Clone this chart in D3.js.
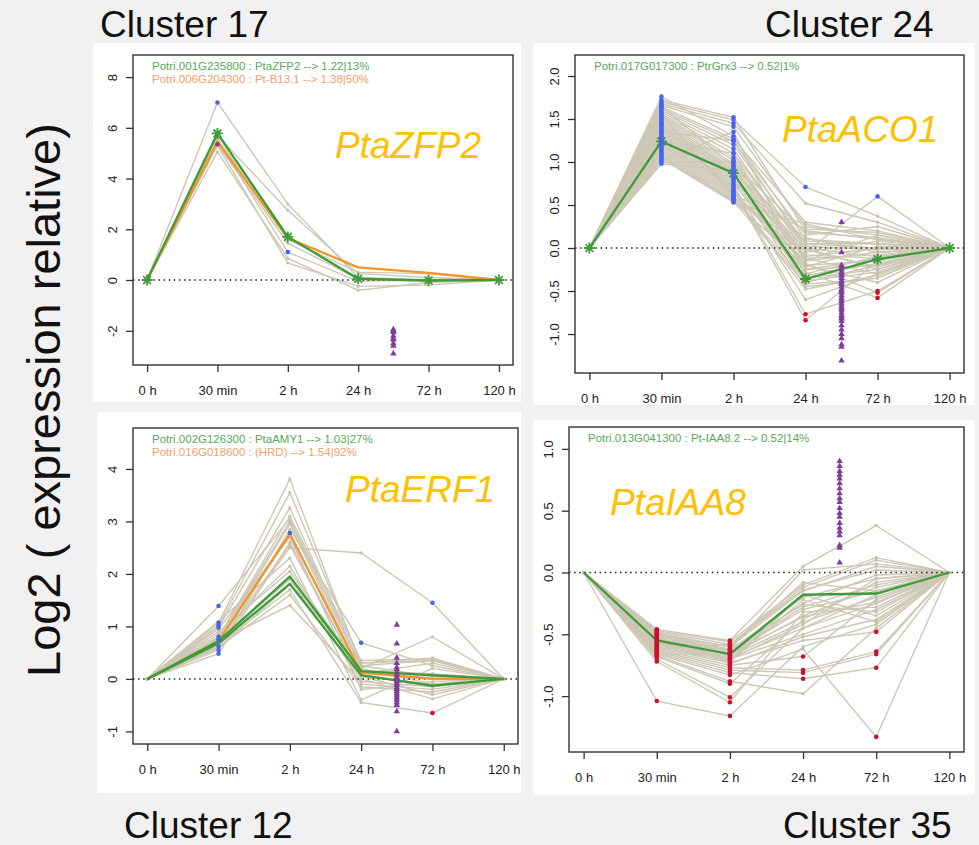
<!DOCTYPE html>
<html><head><meta charset="utf-8">
<script src="https://cdn.jsdelivr.net/npm/d3@7"></script>
<style>body{margin:0;background:#f1f1f1}svg{display:block}</style>
</head><body><svg id="c" width="979" height="845"></svg>
<script>
// ---------- DATA ----------
const timeLabels = ["0 h", "30 min", "2 h", "24 h", "72 h", "120 h"];
const clusterTitles = ["Cluster 17", "Cluster 24", "Cluster 12", "Cluster 35"];
const geneLabels = ["PtaZFP2", "PtaACO1", "PtaERF1", "PtaIAA8"];
const yAxisTitle = "Log2 ( expression relative)";

// Cluster 17
const c17Ticks = [-2, 0, 2, 4, 6, 8];
const c17Legend = ["Potri.001G235800 : PtaZFP2 --> 1.22|13%", "Potri.006G204300 : Pt-B13.1 --> 1.38|50%"];
const c17Lines = [
  [0, 7.0, 3.0, 0.1, 0.0, 0],
  [0, 5.7, 2.75, 0.25, 0.1, 0],
  [0, 5.05, 0.85, -0.4, -0.1, 0],
  [0, 5.3, 0.67, -0.25, -0.2, 0],
  [0, 5.5, 1.1, -0.05, 0.0, 0],
  [0, 5.6, 1.6, 0.3, 0.25, 0],
  [0, 5.35, 1.45, 0.05, -0.05, 0]
];
const c17Green = [[0, 5.78, 1.7, 0.05, -0.02, 0]];
const c17Orange = [0, 5.45, 1.65, 0.5, 0.28, 0];
const c17Blue = [[0, 1], [4, 2]];
const c17Red = [];
const c17PurpleDots = [[6, 1]];
const c17Triangles = [-1.95, -2.0, -2.05, -2.2, -2.3, -2.35, -2.5, -2.6, -2.9];

// Cluster 24
const c24Ticks = [-1.0, -0.5, 0.0, 0.5, 1.0, 1.5, 2.0];
const c24Legend = ["Potri.017G017300 : PtrGrx3 --> 0.52|1%"];
const c24Lines = [
  [0, 1.76, 1.30, 0.10, 0.05, 0],
  [0, 1.72, 1.52, 0.20, 0.10, 0],
  [0, 1.70, 1.49, 0.71, 0.37, 0],
  [0, 1.68, 1.45, 0.52, 0.30, 0],
  [0, 1.66, 1.41, 0.25, 0.15, 0],
  [0, 1.64, 1.27, 0.30, 0.20, 0],
  [0, 1.62, 1.24, 0.15, 0.25, 0],
  [0, 1.60, 1.20, 0.05, 0.05, 0],
  [0, 1.58, 1.15, -0.05, 0.60, 0],
  [0, 1.56, 1.10, 0.00, -0.10, 0],
  [0, 1.54, 1.05, -0.10, 0.00, 0],
  [0, 1.52, 1.02, -0.15, -0.05, 0],
  [0, 1.50, 0.98, 0.18, 0.12, 0],
  [0, 1.48, 0.95, -0.20, -0.15, 0],
  [0, 1.46, 0.92, -0.25, -0.20, 0],
  [0, 1.44, 0.90, 0.08, 0.05, 0],
  [0, 1.42, 0.88, -0.30, -0.10, 0],
  [0, 1.40, 0.86, -0.35, -0.25, 0],
  [0, 1.38, 0.84, -0.12, -0.30, 0],
  [0, 1.36, 0.82, -0.40, -0.20, 0],
  [0, 1.34, 0.80, -0.05, 0.08, 0],
  [0, 1.32, 0.78, -0.45, -0.35, 0],
  [0, 1.30, 0.76, 0.12, -0.05, 0],
  [0, 1.28, 0.74, -0.20, -0.40, 0],
  [0, 1.26, 0.72, -0.60, -0.30, 0],
  [0, 1.24, 0.70, -0.77, -0.50, 0],
  [0, 1.22, 0.68, -0.84, -0.15, 0],
  [0, 1.20, 0.66, -0.28, -0.58, 0],
  [0, 1.18, 0.64, -0.18, -0.52, 0],
  [0, 1.16, 0.62, 0.22, 0.18, 0],
  [0, 1.14, 0.60, -0.08, -0.12, 0],
  [0, 1.12, 0.58, -0.38, -0.28, 0],
  [0, 1.10, 0.56, 0.02, -0.02, 0],
  [0, 1.08, 0.55, -0.22, 0.02, 0],
  [0, 1.06, 0.54, -0.42, -0.35, 0],
  [0, 1.04, 0.53, 0.28, 0.10, 0],
  [0, 1.02, 1.35, -0.32, -0.18, 0],
  [0, 1.00, 1.00, -0.12, -0.08, 0],
  [0, 0.98, 0.90, -0.02, -0.22, 0],
  [0, 1.55, 0.60, -0.48, -0.32, 0],
  [0, 1.45, 0.65, -0.15, 0.15, 0],
  [0, 1.35, 1.25, 0.00, -0.25, 0],
  [0, 1.25, 1.10, -0.25, -0.12, 0],
  [0, 1.65, 0.95, 0.05, 0.00, 0]
];
const c24Green = [[0, 1.24, 0.87, -0.36, -0.13, 0]];
const c24Orange = null;
const c24BlueTimes = [1, 2];
const c24Blue = [[2, 3], [8, 4]];
const c24Red = [[25, 3], [26, 3], [25, 4], [27, 4], [28, 4]];
const c24Triangles = [0.3, -0.05, -0.2, -0.22, -0.25, -0.28, -0.3, -0.32, -0.35, -0.38, -0.4, -0.42, -0.45,
  -0.48, -0.5, -0.52, -0.55, -0.58, -0.6, -0.62, -0.65, -0.68, -0.7, -0.72, -0.75, -0.78, -0.8, -0.82,
  -0.85, -0.9, -0.95, -1.0, -1.05, -1.12, -1.15, -1.31];

// Cluster 12
const c12Ticks = [-1, 0, 1, 2, 3, 4];
const c12Legend = ["Potri.002G126300 : PtaAMY1 --> 1.03|27%", "Potri.016G018600 : (HRD) --> 1.54|92%"];
const c12Lines = [
  [0, 1.39, 3.05, 0.25, 0.35, 0],
  [0, 1.07, 3.81, 0.25, 0.05, 0],
  [0, 1.02, 3.55, 0.30, 0.40, 0],
  [0, 0.98, 3.26, 0.20, 0.80, 0],
  [0, 0.80, 3.10, 0.35, 0.38, 0],
  [0, 0.75, 2.95, 0.10, 0.30, 0],
  [0, 0.62, 2.50, 2.40, 1.45, 0],
  [0, 0.55, 2.85, 0.69, 0.25, 0],
  [0, 0.48, 2.60, 0.05, -0.10, 0],
  [0, 0.85, 2.15, -0.10, -0.20, 0],
  [0, 0.70, 1.90, 0.00, -0.38, 0],
  [0, 0.65, 1.70, -0.45, -0.65, 0],
  [0, 0.60, 1.60, -0.15, -0.25, 0],
  [0, 0.90, 2.05, 0.15, 0.10, 0],
  [0, 0.72, 1.40, -0.05, -0.15, 0],
  [0, 0.95, 2.70, -0.20, -0.05, 0],
  [0, 0.58, 1.80, 0.30, 0.35, 0],
  [0, 1.10, 2.30, -0.40, 0.20, 0],
  [0, 0.68, 2.55, 0.05, -0.30, 0],
  [0, 0.80, 3.00, 0.20, -0.10, 0],
  [0, 0.78, 2.78, 0.12, 0.02, 0]
];
const c12Green = [[0, 0.72, 1.95, 0.15, 0.07, 0], [0, 0.68, 1.81, 0.07, -0.13, 0]];
const c12Orange = [0, 0.72, 2.76, 0.12, 0.0, 0];
const c12Blue = [[0, 1], [1, 1], [2, 1], [3, 1], [4, 1], [5, 1], [6, 1], [7, 1], [8, 1], [6, 4], [7, 3], [20, 2]];
const c12Red = [[11, 4]];
const c12Triangles = [1.03, 0.67, 0.4, 0.3, 0.22, 0.18, 0.12, 0.08, 0.03, 0.0, -0.04, -0.08, -0.12, -0.16,
  -0.2, -0.24, -0.28, -0.32, -0.36, -0.4, -0.45, -0.5, -0.62, -1.0];

// Cluster 35
const c35Ticks = [-1.0, -0.5, 0.0, 0.5, 1.0];
const c35Legend = ["Potri.013G041300 : Pt-IAA8.2 --> 0.52|14%"];
const c35Lines = [
  [0, -0.46, -0.55, 0.05, 0.38, 0],
  [0, -0.47, -0.56, -0.10, 0.12, 0],
  [0, -0.48, -0.58, -0.12, 0.10, 0],
  [0, -0.49, -0.60, -0.15, 0.05, 0],
  [0, -0.50, -0.62, 0.02, 0.07, 0],
  [0, -0.51, -0.63, -0.20, -0.05, 0],
  [0, -0.52, -0.64, -0.25, -0.02, 0],
  [0, -0.53, -0.65, -0.28, -0.10, 0],
  [0, -0.54, -0.66, -0.30, -0.15, 0],
  [0, -0.55, -0.67, -0.35, -0.12, 0],
  [0, -0.56, -0.68, -0.40, -0.20, 0],
  [0, -0.57, -0.69, -0.45, -0.25, 0],
  [0, -0.58, -0.70, -0.50, -0.30, 0],
  [0, -0.59, -0.71, -0.18, -0.35, 0],
  [0, -0.60, -0.72, -0.22, -0.40, 0],
  [0, -0.61, -0.73, -0.55, -0.48, 0],
  [0, -0.62, -0.75, -0.68, -0.22, 0],
  [0, -0.63, -0.77, -0.79, -0.64, 0],
  [0, -0.64, -0.79, -0.81, -0.66, 0],
  [0, -0.65, -0.81, -0.86, -0.77, 0],
  [0, -0.66, -0.83, -0.62, -1.33, 0],
  [0, -0.67, -0.88, -0.98, -0.45, 0],
  [0, -0.68, -0.90, -0.38, -0.08, 0],
  [0, -0.70, -1.01, -0.45, -0.18, 0],
  [0, -0.72, -1.05, -0.32, -0.28, 0],
  [0, -1.04, -1.16, -0.60, -0.42, 0],
  [0, -0.50, -0.60, -0.08, -0.15, 0],
  [0, -0.53, -0.70, -0.42, -0.05, 0],
  [0, -0.58, -0.62, -0.26, -0.32, 0],
  [0, -0.48, -0.74, -0.52, -0.38, 0],
  [0, -0.62, -0.58, -0.14, 0.02, 0],
  [0, -0.66, -0.66, -0.36, -0.24, 0]
];
const c35Green = [[0, -0.55, -0.66, -0.18, -0.17, 0]];
const c35Orange = null;
const c35RedTimes = [1, 2];
const c35Red = [[16, 3], [17, 3], [18, 3], [19, 3], [15, 4], [17, 4], [18, 4], [19, 4], [20, 4]];
const c35Blue = [];
const c35Triangles = [0.9, 0.86, 0.82, 0.79, 0.76, 0.72, 0.68, 0.64, 0.6, 0.57, 0.52, 0.48, 0.45, 0.4,
  0.36, 0.33, 0.3, 0.22, 0.2, 0.08];

// ---------- LAYOUT ----------
const panels = [
  { lines: c17Lines, green: c17Green, orange: c17Orange, blue: c17Blue, blueTimes: [], red: c17Red, redTimes: [],
    purpleDots: c17PurpleDots, tri: c17Triangles, ticks: c17Ticks, fmt: v => String(v), legend: c17Legend, stars: true,
    frame: [93, 43, 428, 359], box: [133, 55, 513, 365], yDom: [-3.35, 8.87], gene: [335, 158] },
  { lines: c24Lines, green: c24Green, orange: c24Orange, blue: c24Blue, blueTimes: c24BlueTimes, red: c24Red, redTimes: [],
    purpleDots: [], tri: c24Triangles, ticks: c24Ticks, fmt: v => v.toFixed(1), legend: c24Legend, stars: true,
    frame: [533, 43, 442, 362], box: [575, 55, 964, 373], yDom: [-1.453, 2.244], gene: [782, 142] },
  { lines: c12Lines, green: c12Green, orange: c12Orange, blue: c12Blue, blueTimes: [], red: c12Red, redTimes: [],
    purpleDots: [], tri: c12Triangles, ticks: c12Ticks, fmt: v => String(v), legend: c12Legend, stars: false,
    frame: [97, 412, 424, 381], box: [133, 428, 518, 744], yDom: [-1.24, 4.78], gene: [345, 502] },
  { lines: c35Lines, green: c35Green, orange: c35Orange, blue: c35Blue, blueTimes: [], red: c35Red, redTimes: c35RedTimes,
    purpleDots: [], tri: c35Triangles, ticks: c35Ticks, fmt: v => v.toFixed(1), legend: c35Legend, stars: false,
    frame: [533, 420, 442, 375], box: [569, 427, 964, 752], yDom: [-1.452, 1.177], gene: [610, 515] }
];

const FONT = "'Liberation Sans', Arial, Helvetica, sans-serif";
const GRAY = "#cdc8b5", GREEN = "#3f9b3a", ORANGE = "#f3952c", BLUE = "#4a63ee", RED = "#cc1030", PURPLE = "#7d3e9a";
const svg = d3.select("#c");

function starPath(r) {
  const d = r * 0.7071;
  return `M${-r},0L${r},0M0,${-r}L0,${r}M${-d},${-d}L${d},${d}M${-d},${d}L${d},${-d}`;
}

panels.forEach((p, pi) => {
  const g = svg.append("g");
  g.append("rect").attr("x", p.frame[0]).attr("y", p.frame[1]).attr("width", p.frame[2]).attr("height", p.frame[3]).attr("fill", "#fff");
  const [l, t, r, b] = p.box;
  const x = d3.scaleLinear().domain([-0.2, 5.2]).range([l, r]);
  const y = d3.scaleLinear().domain(p.yDom).range([b, t]);
  const line = d3.line().x((d, i) => x(i)).y(d => y(d));

  // gray lines
  g.append("g").selectAll("path").data(p.lines).join("path")
    .attr("d", line).attr("fill", "none").attr("stroke", GRAY).attr("stroke-width", 1.4);
  const verts = p.lines.flatMap(ln => ln.map((v, i) => [i, v]));
  g.append("g").selectAll("circle").data(verts).join("circle")
    .attr("cx", d => x(d[0])).attr("cy", d => y(d[1])).attr("r", 1.6).attr("fill", "#c6c1ad");

  // zero line
  g.append("line").attr("x1", l).attr("x2", r).attr("y1", y(0)).attr("y2", y(0))
    .attr("stroke", "#222").attr("stroke-width", 1.5).attr("stroke-dasharray", "1.5,3.6");

  // orange & green
  if (p.orange) g.append("path").attr("d", line(p.orange)).attr("fill", "none").attr("stroke", ORANGE).attr("stroke-width", 2.3);
  g.append("g").selectAll("path").data(p.green).join("path")
    .attr("d", line).attr("fill", "none").attr("stroke", GREEN).attr("stroke-width", 2.3);
  if (p.stars) {
    const sp = p.green.flatMap(ln => ln.map((v, i) => [i, v]));
    g.append("g").selectAll("path").data(sp).join("path")
      .attr("transform", d => `translate(${x(d[0])},${y(d[1])})`)
      .attr("d", starPath(5.5)).attr("stroke", GREEN).attr("stroke-width", 1.8).attr("fill", "none");
  }

  // dots
  const blues = p.blue.map(([li, ti]) => [ti, p.lines[li][ti]])
    .concat(p.blueTimes.flatMap(ti => p.lines.map(ln => [ti, ln[ti]])));
  const reds = p.red.map(([li, ti]) => [ti, p.lines[li][ti]])
    .concat(p.redTimes.flatMap(ti => p.lines.map(ln => [ti, ln[ti]])));
  const pdots = p.purpleDots.map(([li, ti]) => [ti, p.lines[li][ti]]);
  const dot = (data, col) => g.append("g").selectAll("circle").data(data).join("circle")
    .attr("cx", d => x(d[0])).attr("cy", d => y(d[1])).attr("r", 2.3).attr("fill", col);
  dot(blues, BLUE); dot(reds, RED); dot(pdots, PURPLE);
  g.append("g").selectAll("path").data(p.tri).join("path")
    .attr("transform", d => `translate(${x(3.5)},${y(d)})`)
    .attr("d", d3.symbol(d3.symbolTriangle, 18)).attr("fill", PURPLE);

  // box
  g.append("rect").attr("x", l).attr("y", t).attr("width", r - l).attr("height", b - t)
    .attr("fill", "none").attr("stroke", "#333").attr("stroke-width", 1.4);

  // axes
  const xa = d3.axisBottom(x).tickValues(d3.range(6)).tickFormat(i => timeLabels[i]).tickSize(7).tickSizeOuter(0);
  g.append("g").attr("transform", `translate(0,${b})`).call(xa).call(s => {
    s.select(".domain").remove();
    s.selectAll("line").attr("stroke", "#333").attr("stroke-width", 1.3);
    s.selectAll("text").attr("y", 30).attr("dy", 0).attr("fill", "#222")
      .style("font-family", FONT).style("font-size", "13px");
  });
  const ya = d3.axisLeft(y).tickValues(p.ticks).tickFormat(p.fmt).tickSize(7);
  g.append("g").attr("transform", `translate(${l},0)`).call(ya).call(s => {
    s.select(".domain").remove();
    s.selectAll("line").attr("stroke", "#333").attr("stroke-width", 1.3);
    s.selectAll("text").attr("transform", "rotate(-90)").attr("x", 0).attr("y", -16).attr("dy", 0)
      .attr("text-anchor", "middle").attr("fill", "#222")
      .style("font-family", FONT).style("font-size", "13px");
  });

  // legend
  g.append("g").selectAll("text").data(p.legend).join("text")
    .attr("x", l + 19).attr("y", (d, i) => t + 15 + i * 12.5)
    .attr("fill", (d, i) => i === 0 ? "#5aa85a" : "#f2a06c")
    .style("font-family", FONT).style("font-size", "11.5px").text(d => d);

  // gene label
  g.append("text").attr("x", p.gene[0]).attr("y", p.gene[1]).attr("fill", "#ffc000")
    .style("font-family", FONT).style("font-size", "37px").style("font-style", "italic").text(geneLabels[pi]);
});

// cluster titles
const titlePos = [[100, 37], [765, 37], [124, 838], [783, 838]];
svg.append("g").selectAll("text").data(clusterTitles).join("text")
  .attr("x", (d, i) => titlePos[i][0]).attr("y", (d, i) => titlePos[i][1])
  .attr("fill", "#111").style("font-family", FONT).style("font-size", "37px").text(d => d);

// y axis title
svg.append("text").attr("transform", "translate(60,400) rotate(-90)").attr("text-anchor", "middle")
  .attr("fill", "#111").style("font-family", FONT).style("font-size", "47px").text(yAxisTitle);
</script>
</body></html>
